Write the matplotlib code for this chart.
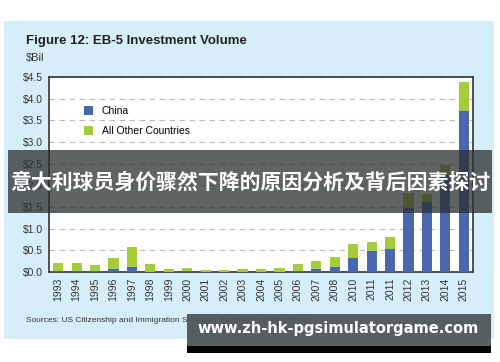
import matplotlib
matplotlib.use('Agg')
import matplotlib.pyplot as plt
from matplotlib.patches import Rectangle

years = ["1993", "1994", "1995", "1996", "1997", "1998", "1999", "2000",
         "2001", "2002", "2003", "2004", "2005", "2006", "2007", "2008",
         "2010", "2011", "2011", "2012", "2013", "2014", "2015"]
china = [0.03, 0.03, 0.03, 0.07, 0.12, 0.01, 0.01, 0.03,
         0.01, 0.01, 0.01, 0.01, 0.01, 0.03, 0.07, 0.12,
         0.32, 0.48, 0.53, 1.48, 1.61, 2.25, 3.72]
other = [0.18, 0.18, 0.13, 0.26, 0.45, 0.17, 0.06, 0.07,
         0.04, 0.04, 0.06, 0.06, 0.09, 0.16, 0.19, 0.23,
         0.33, 0.22, 0.27, 0.35, 0.18, 0.23, 0.67]
yticks = [0.0, 0.5, 1.0, 1.5, 2.0, 2.5, 3.0, 3.5, 4.0, 4.5]

blue = '#4a66ae'
green = '#a5cc3a'
panel = '#d6eef9'

fig = plt.figure(figsize=(5, 3.62), dpi=100)
fig.patch.set_facecolor('white')

W, H = 500, 362


def box(x0, y0, x1, y1, **kw):
    # pixel coords from top-left
    return Rectangle((x0 / W, 1 - y1 / H), (x1 - x0) / W, (y1 - y0) / H,
                     transform=fig.transFigure, **kw)


fig.patches.append(box(4, 21, 494, 339, facecolor=panel, edgecolor='none', zorder=-1))

ax = fig.add_axes([49 / W, 1 - 272 / H, (473 - 49) / W, (272 - 77) / H])
ax.set_zorder(1)
ax.set_facecolor('white')
x = list(range(len(years)))
ax.bar(x, china, width=0.55, color=blue, zorder=3, label='China')
ax.bar(x, other, width=0.55, bottom=china, color=green, zorder=3,
       label='All Other Countries')
ax.set_xlim(-0.5, len(years) - 0.5)
ax.set_ylim(0, 4.5)
ax.set_yticks(yticks)
ax.set_yticklabels(['$%.1f' % v for v in yticks], fontsize=7.5,
                   family='Liberation Sans', color='#333333')
ax.set_xticks(x)
ax.set_xticklabels(years, rotation=90, fontsize=7.5, family='Liberation Sans',
                   color='#333333')
ax.tick_params(length=0, pad=4)
ax.yaxis.grid(True, linestyle=(0, (5, 4)), color='#bbbbbb', linewidth=0.8, zorder=1)
for s in ax.spines.values():
    s.set_color('#333333')
    s.set_linewidth(1.2)

ax.legend(loc='upper left', bbox_to_anchor=(0.06, 0.9), frameon=False,
          handlelength=0.9, handleheight=0.9, labelspacing=1.0,
          prop={'family': 'Liberation Sans', 'size': 7.5})

fig.text(26 / W, 1 - 41 / H, 'Figure 12: EB-5 Investment Volume', fontsize=9.5,
         fontweight='bold', color='#222222', va='center', family='Liberation Sans')
fig.text(26 / W, 1 - 58 / H, '$Bil', fontsize=8, color='#333333', va='center',
         family='Liberation Sans')
fig.text(26 / W, 1 - 321 / H,
         'Sources: US Citizenship and Immigration Services, Rosen Consulting Group',
         fontsize=6, color='#333333', va='center', family='Liberation Sans')

# overlay banners
fig.patches.append(box(8, 150, 492, 213, facecolor='#2a2f30', alpha=0.75,
                       edgecolor='none', zorder=10))
fig.text(250 / W, 1 - 182 / H, '意大利球员身价骤然下降的原因分析及背后因素探讨',
         fontsize=15, fontweight='bold', color='white', ha='center', va='center',
         family=['Noto Sans CJK SC', 'DejaVu Sans'], zorder=11)

fig.patches.append(box(187, 314, 491, 346, facecolor='#4e5658', alpha=0.95,
                       edgecolor='none', zorder=10))
fig.patches.append(box(187, 346, 491, 353, facecolor='black',
                       edgecolor='none', zorder=10))
fig.text(338 / W, 1 - 329 / H, 'www.zh-hk-pgsimulatorgame.com', fontsize=10.5,
         fontweight='bold', color='white', ha='center', va='center', zorder=11)

plt.savefig('out.png', dpi=100, facecolor=fig.get_facecolor())
plt.close()
